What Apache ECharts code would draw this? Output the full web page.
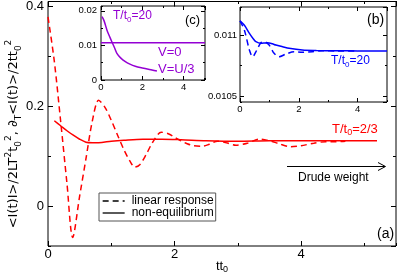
<!DOCTYPE html>
<html><head><meta charset="utf-8">
<script src="https://cdn.jsdelivr.net/npm/echarts@6/dist/echarts.min.js"></script>
<style>html,body{margin:0;padding:0;background:#fff}#c{width:399px;height:276px}</style>
</head><body><div id="c"></div>
<script>
// ---- Panel (a): T/t0 = 2/3 ----
const tLinear = [0, 0.1, 0.2, 0.3, 0.39, 0.5, 0.6, 0.7, 0.8, 0.9, 1.0, 1.1, 1.2, 1.3, 1.37, 1.45, 1.55, 1.65, 1.79, 1.9, 2.0, 2.1, 2.2, 2.3, 2.44, 2.55, 2.68, 2.82, 2.97, 3.15, 3.34, 3.5, 3.65, 3.84, 4.0, 4.2, 4.39, 4.55, 4.7];
const vLinear = [0.379, 0.29, 0.17, 0.045, -0.063, 0.02, 0.095, 0.17, 0.212, 0.198, 0.172, 0.142, 0.113, 0.089, 0.078, 0.083, 0.103, 0.127, 0.148, 0.145, 0.138, 0.131, 0.125, 0.121, 0.12, 0.124, 0.13, 0.127, 0.122, 0.126, 0.134, 0.131, 0.125, 0.119, 0.121, 0.126, 0.129, 0.129, 0.13];
const tNoneq = [0.1, 0.2, 0.3, 0.4, 0.5, 0.6, 0.7, 0.8, 1.0, 1.2, 1.5, 1.8, 2.1, 2.5, 3.0, 3.5, 4.0, 4.5, 5.0, 5.2];
const vNoneq = [0.171, 0.161, 0.151, 0.142, 0.134, 0.128, 0.127, 0.127, 0.130, 0.132, 0.134, 0.134, 0.133, 0.131, 0.130, 0.131, 0.131, 0.131, 0.131, 0.131];
// ---- Panel (b): T/t0 = 20 ----
const tB_neq = [0, 0.15, 0.32, 0.45, 0.54, 0.71, 0.85, 0.94, 1.1, 1.22, 1.45, 1.67, 2.12, 2.6, 3.25, 4.0, 5.0];
const vB_neq = [0.011117, 0.01108, 0.011014, 0.01097, 0.010946, 0.010932, 0.010935, 0.010937, 0.010928, 0.010918, 0.010904, 0.010891, 0.010877, 0.010873, 0.010871, 0.01087, 0.01087];
const tB_lin = [0, 0.15, 0.32, 0.43, 0.54, 0.71, 0.82, 0.99, 1.16, 1.33, 1.56, 1.84, 2.12, 2.46, 2.8, 3.3, 4.0];
const vB_lin = [0.011117, 0.01104, 0.010877, 0.010822, 0.010863, 0.010937, 0.010945, 0.010918, 0.01085, 0.010822, 0.010844, 0.010863, 0.010858, 0.010863, 0.010871, 0.01087, 0.01087];
// ---- Panel (c): T/t0 = 20, V=0 and V=U/3 ----
const tC_V0 = [0, 5.04];
const vC_V0 = [0.01075, 0.01075];
const tC_VU3 = [0.05, 0.15, 0.29, 0.4, 0.53, 0.65, 0.77, 0.95, 1.18, 1.4, 1.66, 2.0, 2.47, 2.71];
const vC_VU3 = [0.0183, 0.0171, 0.0144, 0.0128, 0.0110, 0.0094, 0.0077, 0.0064, 0.0053, 0.0046, 0.0040, 0.0035, 0.0029, 0.0026];
// ---- tick steps ----
const mainXTicks = [0, 2, 4], mainYTicks = [0, 0.2, 0.4];
const cXTicks = [0, 2, 4], cYTicks = [0, 0.01, 0.02];
const bXTicks = [0, 2, 4], bYTicks = [0.0105, 0.011];

const zip = (xs, ys) => xs.map((x, i) => [x, ys[i]]);
const FONT = "'Liberation Sans', Arial, sans-serif";
const DJ = "'DejaVu Sans', sans-serif";
const RED = '#ff0000', BLUE = '#0000ff', VIOLET = '#9400d3';

const G = {
  a: {left: 48, top: 1, width: 348, height: 245},
  c: {left: 101, top: 6, width: 104, height: 74},
  b: {left: 240, top: 7, width: 147, height: 95}
};
const grids = [];
['a', 'c', 'b'].forEach(k => {
  grids.push(Object.assign({}, G[k], {show: true, borderColor: '#000', borderWidth: 1, backgroundColor: '#fff'}));
  grids.push(Object.assign({}, G[k], {show: false}));
});

const xAxes = [], yAxes = [];
function ax(grid, pos, min, max, step, len, lab) {
  return {
    type: 'value', gridIndex: grid, position: pos, min: min, max: max,
    minInterval: step, maxInterval: step,
    axisLine: {show: false, onZero: false}, splitLine: {show: false},
    axisTick: {show: true, inside: true, length: len, lineStyle: {color: '#000', width: 1}},
    axisLabel: lab ? Object.assign({show: true, color: '#000', fontFamily: FONT}, lab) : {show: false}
  };
}
function plot(gi, xr, yr, xMaj, xMin, yMaj, yMin, majLen, minLen, xl, yl) {
  xAxes.push(ax(gi, 'bottom', xr[0], xr[1], xMaj, majLen, xl));
  xAxes.push(ax(gi, 'top', xr[0], xr[1], xMaj, majLen, null));
  xAxes.push(ax(gi + 1, 'bottom', xr[0], xr[1], xMin, minLen, null));
  xAxes.push(ax(gi + 1, 'top', xr[0], xr[1], xMin, minLen, null));
  yAxes.push(ax(gi, 'left', yr[0], yr[1], yMaj, majLen, yl));
  yAxes.push(ax(gi, 'right', yr[0], yr[1], yMaj, majLen, null));
  yAxes.push(ax(gi + 1, 'left', yr[0], yr[1], yMin, minLen, null));
  yAxes.push(ax(gi + 1, 'right', yr[0], yr[1], yMin, minLen, null));
}
// main (a)
plot(0, [0, 5.5], [-0.08, 0.41], mainXTicks[1] - mainXTicks[0], 1, 0.2, 0.1, 5, 3,
  {fontSize: 13, margin: 2, showMaxLabel: false},
  {fontSize: 13, margin: 4, showMinLabel: false, showMaxLabel: false});
// inset (c)
plot(2, [0, 5.04], [0, 0.0214], cXTicks[1] - cXTicks[0], 1, 0.01, 0.005, 4, 2,
  {fontSize: 9.5, margin: 2, showMaxLabel: false},
  {fontSize: 9.5, margin: 4, showMaxLabel: false});
// inset (b)
plot(4, [0, 5], [0.010451, 0.01123], bXTicks[1] - bXTicks[0], 1, 0.0005, 0.00025, 4, 2,
  {fontSize: 9.5, margin: 2, showMaxLabel: false},
  {fontSize: 9.5, margin: 3, showMinLabel: false, showMaxLabel: false});

function line(name, xi, yi, data, color, dashed) {
  return {
    type: 'line', name: name, xAxisIndex: xi, yAxisIndex: yi, data: data,
    symbol: 'none', showSymbol: false, smooth: 0.3, silent: true,
    lineStyle: {color: color, width: 1.5, type: dashed ? [6, 4] : 'solid'},
    itemStyle: {color: color}
  };
}
const series = [
  line('linear response', 0, 0, zip(tLinear, vLinear), RED, true),
  line('non-equilibrium', 0, 0, zip(tNoneq, vNoneq), RED, false),
  line('c-V0', 4, 4, zip(tC_V0, vC_V0), VIOLET, false),
  line('c-VU3', 4, 4, zip(tC_VU3, vC_VU3), VIOLET, false),
  line('b-lin', 8, 8, zip(tB_lin, vB_lin), BLUE, true),
  line('b-neq', 8, 8, zip(tB_neq, vB_neq), BLUE, false)
];

function rich(color, sub, fam) {
  return {
    s: {fontSize: sub, lineHeight: sub, verticalAlign: 'bottom', fill: color, fontFamily: fam},
    p: {fontSize: sub, lineHeight: sub, verticalAlign: 'top', fill: color, fontFamily: fam}
  };
}
function txt(x, y, text, color, size, align) {
  return {
    type: 'text', x: x, y: y, z: 100,
    style: {text: text, fill: color, fontSize: size, fontFamily: FONT, align: align || 'left', verticalAlign: 'middle',
      lineHeight: size + 4, rich: rich(color, Math.round(size * 0.7), FONT)}
  };
}

const graphics = [
  // y axis title
  {type: 'text', x: 14, y: 134, rotation: Math.PI / 2, z: 100,
   style: {text: '<I(t)I>/2LT{p|2}t{s|0}{p|2}, ∂{s|T}<I(t)>/2tt{s|0}{p|2}', fill: '#000', fontSize: 13,
     fontFamily: DJ, align: 'center', verticalAlign: 'middle', lineHeight: 19, rich: rich('#000', 9, DJ)}},
  txt(222, 266, 'tt{s|0}', '#000', 13, 'center'),
  txt(332, 129, 'T/t{s|0}=2/3', RED, 13),
  txt(298, 178, 'Drude weight', '#000', 12),
  txt(377, 234, '(a)', '#000', 14),
  txt(367, 20, '(b)', '#000', 14),
  txt(331, 61, 'T/t{s|0}=20', BLUE, 12),
  txt(185, 20, '(c)', '#000', 13),
  txt(113, 16, 'T/t{s|0}=20', VIOLET, 12),
  txt(158, 52, 'V=0', VIOLET, 13),
  txt(158, 69.5, 'V=U/3', VIOLET, 13),
  {type: 'line', z: 100, shape: {x1: 287, y1: 166.5, x2: 385, y2: 166.5}, style: {stroke: '#000', lineWidth: 1}},
  {type: 'polyline', z: 100, shape: {points: [[378, 162.5], [385.5, 166.5], [378, 170.5]]}, style: {stroke: '#000', lineWidth: 1, fill: null}}
];

const chart = echarts.init(document.getElementById('c'), null, {renderer: 'canvas', width: 399, height: 276});
chart.setOption({
  animation: false,
  grid: grids,
  xAxis: xAxes,
  yAxis: yAxes,
  legend: {
    data: ['linear response', 'non-equilibrium'],
    orient: 'vertical', left: 99, top: 193,
    padding: [2, 2, 2, 3], itemGap: 0, itemWidth: 22, itemHeight: 14,
    borderColor: '#555', borderWidth: 1, backgroundColor: '#fff', borderRadius: 0,
    selectedMode: false,
    lineStyle: {color: '#000', width: 1.3},
    itemStyle: {opacity: 0},
    textStyle: {fontSize: 12, fontFamily: FONT, color: '#000', padding: [0, 0, 0, 2]}
  },
  series: series,
  graphic: graphics
});
</script></body></html>
